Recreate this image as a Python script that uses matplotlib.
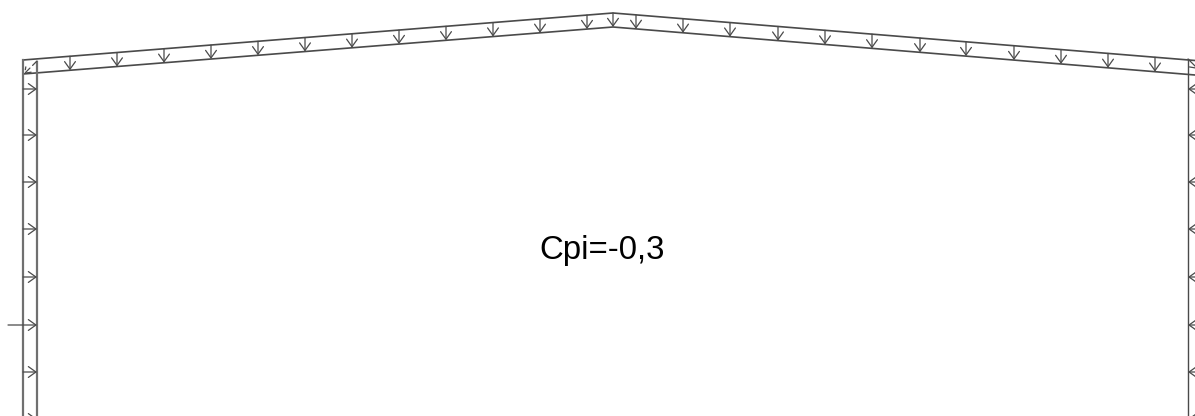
#!/usr/bin/env python3
"""Portal frame wind load sketch, Cpi=-0,3. Axes are in picture pixels."""
import numpy as np
import matplotlib
matplotlib.use("Agg")
import matplotlib.pyplot as plt

W, H = 1195, 416
LABEL = "Cpi=-0,3"
COL = "#4a4a4a"

# frame outline
ROOF_X = [23, 613, 1195]
ROOF_TOP = [60, 13, 60.5]
ROOF_BOT = [74, 27, 75]
WALL_LEFT = [23, 37]
WALL_RIGHT = [1188]
WALL_TOP = 60
WALL_BOT = 416

# load arrows
ROOF_ARROWS = [70, 117, 164, 211, 258, 305, 352, 399, 446, 493, 540, 587, 613,
               636, 683, 730, 778, 825, 872, 920, 966, 1014, 1061, 1108, 1155]
WALL_ARROWS = [89, 135, 182, 229, 277, 325, 372, 419]
LONG_ARROW = 325
LONG_START = 8


def arrow(ax, start, end, ms=13, ls="-"):
    ax.annotate("", xy=end, xytext=start, annotation_clip=False,
                arrowprops=dict(arrowstyle="->,head_length=0.42,head_width=0.3", color=COL, lw=0.9,
                                shrinkA=0, shrinkB=0, mutation_scale=ms, linestyle=ls))


fig = plt.figure(figsize=(W/100, H/100), dpi=100)
ax = fig.add_axes([0, 0, 1, 1]); ax.set_xlim(0, W); ax.set_ylim(H, 0); ax.axis("off")

ax.plot(ROOF_X, ROOF_TOP, color=COL, lw=1.2); ax.plot(ROOF_X, ROOF_BOT, color=COL, lw=1.2)
for x in WALL_LEFT:
    ax.plot([x, x], [WALL_TOP if x == 23 else 62, WALL_BOT], color="#707070", lw=1.6)
for x in WALL_RIGHT:
    ax.plot([x, x], [59, WALL_BOT], color=COL, lw=1.0)

# roof load arrows, top chord down to bottom chord
for x in ROOF_ARROWS:
    arrow(ax, (x, np.interp(x, ROOF_X, ROOF_TOP)), (x, np.interp(x, ROOF_X, ROOF_BOT)))

# wall arrows, both sides point into the wall line
for y in WALL_ARROWS:
    arrow(ax, (LONG_START if y == LONG_ARROW else WALL_LEFT[0], y), (WALL_LEFT[1], y))
    arrow(ax, (W + 4, y), (WALL_RIGHT[0], y))

# corner arrows
arrow(ax, (37, 61), (24, 74), ms=9, ls=(0, (5, 3)))
arrow(ax, (1188, 59), (1198, 69), ms=11)

ax.text(602.5, 250.5, LABEL, family="Liberation Sans", fontsize=23.8, color="#000000", ha="center", va="center")
fig.savefig("out.png", dpi=100)
